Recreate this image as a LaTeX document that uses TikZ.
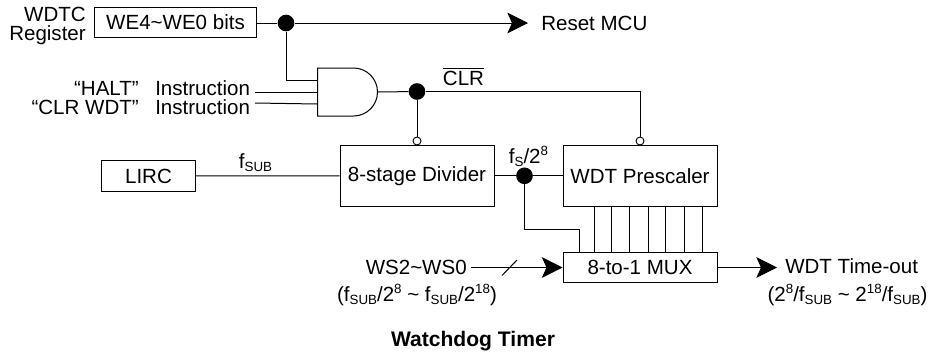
\documentclass[tikz,border=0pt]{standalone}
\usepackage{amsmath}
\usepackage{fontspec}
\setmainfont{Liberation Sans}
\usepackage{tikz}
\usetikzlibrary{arrows.meta,positioning,shapes.gates.logic.US}
\newcommand{\subtxt}[1]{\raisebox{-2.6pt}{\fontsize{10}{10}\selectfont #1}}
\newcommand{\fsub}{f\subtxt{SUB}}
\newcommand{\powtwo}[1]{2\raisebox{6pt}{\fontsize{10}{10}\selectfont #1}}
\tikzset{
  every node/.style={font=\fontsize{15.4}{14}\selectfont},
  wire/.style={line width=0.75pt},
  sig/.style={wire,-{Stealth[length=15.5pt,width=15.5pt,inset=3.5pt]}},
  block/.style={draw,wire,inner sep=0pt},
  txt/.style={inner sep=0pt},
  dot/.style={circle,fill=black,draw=none,minimum size=12.5pt,inner sep=0pt},
  bubble/.style={circle,fill=white,draw,line width=0.7pt,minimum size=6pt,inner sep=0pt},
}
\begin{document}
\begin{tikzpicture}[x=0.75pt,y=-0.75pt]
      \useasboundingbox (0,0) rectangle (932,354);
      \node[block,minimum width=121pt,minimum height=23pt] (we) at (175.5,22.5) {WE4\textasciitilde WE0 bits};
      \node[txt,anchor=east,align=right] (wdtc) at (86,26) {WDTC\\Register};
      \node[dot] (split) at (286,23) {};
      \coordinate (resetend) at (528,23);
      \node[txt,anchor=west] (reset) at (541,23) {Reset MCU};
      \node[and gate US,draw,wire,logic gate inputs=nnn,logic gate input sep=8.6pt,
        minimum width=45pt,minimum height=35pt,inner sep=0pt] (gate) at (345.5,92) {};
      \node[dot] (clrdot) at (417,91.5) {};
      \node[txt,anchor=base] (clr) at (463.5,85) {$\overline{\text{CLR}}$};
      \node[txt,anchor=base east] (halt) at (139,95) {“HALT”};
      \node[txt,anchor=base east] (clrwdt) at (139,114) {“CLR WDT”};
      \node[txt,anchor=base west] (instra) at (155,95) {Instruction};
      \node[txt,anchor=base west] (instrb) at (155,114) {Instruction};
      \coordinate (haltin) at (255,92);
      \coordinate (clrin) at (255,103);
      \node[block,minimum width=70pt,minimum height=23pt] (lirc) at (148.5,176) {LIRC};
      \node[txt,anchor=base] (fsub) at (255.5,168) {\fsub};
      \node[block,minimum width=115.5pt,minimum height=45.5pt] (divider) at (417,175.8) {8-stage Divider};
      \node[block,minimum width=115.5pt,minimum height=45.5pt] (prescaler) at (640,175.8) {WDT Prescaler};
      \node[bubble] (divclr) at (417,141) {};
      \node[bubble] (preclr) at (640,141) {};
      \node[dot] (fsdot) at (524.5,175.8) {};
      \node[txt,anchor=base] (fs) at (528.5,163) {f\subtxt{S}/\powtwo{8}};
      \node[block,minimum width=115.5pt,minimum height=23pt] (mux) at (640,267.5) {8-to-1 MUX};
      \coordinate (fsturn) at (524.5,229);
      \node[txt,anchor=base east] (ws) at (467,274) {WS2\textasciitilde WS0};
      \coordinate (wsin) at (471,267.5);
      \coordinate (slasha) at (502,275.5);
      \coordinate (slashb) at (517,260);
      \node[txt,anchor=base] (wsrange) at (417,301) {(\fsub/\powtwo{8} \textasciitilde{} \fsub/\powtwo{18})};
      \coordinate (muxend) at (777,267.5);
      \node[txt,anchor=base west] (timeout) at (785,273.5) {WDT Time-out};
      \node[txt,anchor=base] (torange) at (847.5,301) {(\powtwo{8}/\fsub{} \textasciitilde{} \powtwo{18}/\fsub)};
      \node[txt,anchor=base,font=\fontsize{15.8}{14}\selectfont\bfseries] (title) at (473,346) {Watchdog Timer};
      \draw[wire] (we.east |- split) -- (split);
      \draw[sig] (split) -- (resetend);
      \draw[wire] (split) |- (gate.input 1);
      \draw[wire] (haltin) -- (gate.input 2);
      \draw[wire] (clrin) -- (gate.input 3);
      \draw[wire] (gate.output) -- (clrdot);
      \draw[wire] (clrdot) -- (divclr);
      \draw[wire] (clrdot) -| (preclr);
      \draw[wire] (lirc) -- (divider);
      \draw[wire] (divider) -- (fsdot);
      \draw[wire] (fsdot) -- (prescaler);
      \draw[wire] (fsdot) -- (fsturn) -| (mux.north -| 579,0);
      \foreach \x in {594,611,629,648,665,684,702}
        \draw[wire] (prescaler.south -| \x,0) -- (mux.north -| \x,0);
      \draw[sig] (wsin) -- (mux.west);
      \draw[wire] (slasha) -- (slashb);
      \draw[sig] (mux) -- (muxend);
\end{tikzpicture}
\end{document}
